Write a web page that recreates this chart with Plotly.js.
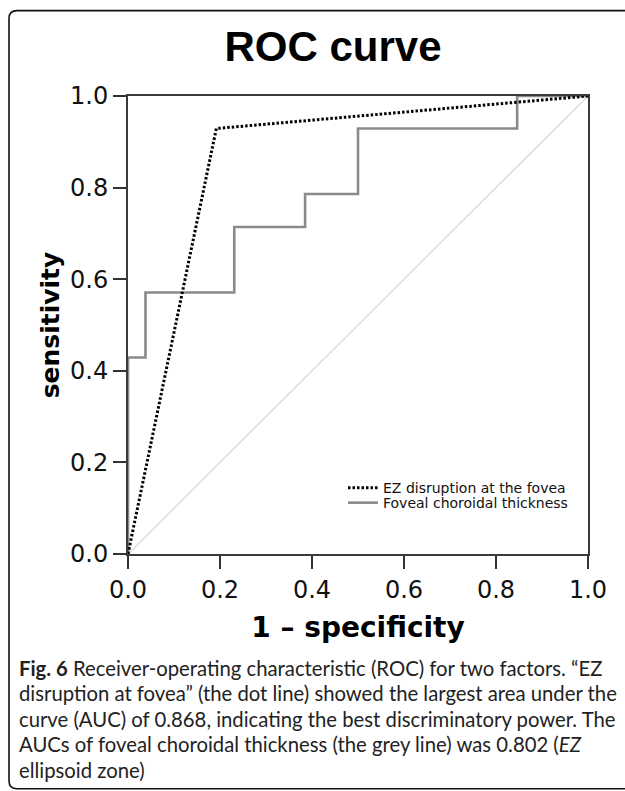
<!DOCTYPE html>
<html>
<head>
<meta charset="utf-8">
<script src="https://cdn.plot.ly/plotly-3.0.1.min.js"></script>
<style>
  html, body { margin: 0; padding: 0; background: #fff; }
  #chart { width: 625px; height: 791px; }
</style>
</head>
<body>
<div id="chart"></div>
<script>
// ---- data ----
const ezFpr = [0, 0.192, 1];
const ezTpr = [0, 0.929, 1];
const fctFpr = [0, 0, 0.038, 0.231, 0.385, 0.5, 0.846, 1];
const fctTpr = [0, 0.429, 0.571, 0.714, 0.786, 0.929, 1, 1];
const refX = [0, 1];
const refY = [0, 1];
const tickVals = [0, 0.2, 0.4, 0.6, 0.8, 1.0];
const tickText = ["0.0", "0.2", "0.4", "0.6", "0.8", "1.0"];
const seriesNames = ["EZ disruption at the fovea", "Foveal choroidal thickness"];
const captionLines = [
  "<b>Fig. 6</b> Receiver-operating characteristic (ROC) for two factors. \u201cEZ",
  "disruption at fovea\u201d (the dot line) showed the largest area under the",
  "curve (AUC) of 0.868, indicating the best discriminatory power. The",
  "AUCs of foveal choroidal thickness (the grey line) was 0.802 (<i>EZ</i>",
  "ellipsoid zone)"
];

// ---- layout geometry (pixels) ----
const W = 625, H = 791;
const L = 128, R = 588, T = 95.5, B = 554;
const xp = px => (px - L) / (R - L);
const yp = py => (B - py) / (B - T);

const traces = [
  { x: refX, y: refY, mode: 'lines', line: { color: '#d6d6d6', width: 1.2 },
    showlegend: false, hoverinfo: 'skip' },
  { x: fctFpr, y: fctTpr, mode: 'lines', name: seriesNames[1],
    line: { color: '#8a8a8a', width: 2.6, shape: 'hv' }, legend: 'legend2' },
  { x: ezFpr, y: ezTpr, mode: 'lines', name: seriesNames[0],
    line: { color: '#000000', width: 3, dash: '2.5px,2px' }, legend: 'legend' }
];

const axisCommon = {
  range: [0, 1], tickmode: 'array', tickvals: tickVals, ticktext: tickText,
  ticks: 'outside', ticklen: 13, tickwidth: 2, tickcolor: '#333',
  showline: true, linewidth: 2, linecolor: '#3a3a3a', mirror: true,
  showgrid: false, zeroline: false, fixedrange: true,
  tickfont: { family: 'DejaVu Sans', size: 24, color: '#111' }
};

const frame = [
  'M', xp(640), yp(10), 'L', xp(17), yp(10),
  'Q', xp(9), yp(10), xp(9), yp(18),
  'L', xp(9), yp(781),
  'Q', xp(9), yp(789), xp(17), yp(789),
  'L', xp(640), yp(789)
].join(' ');

const annotations = captionLines.map((t, i) => ({
  text: t, xref: 'paper', yref: 'paper', x: xp(17), y: yp(668 + i * 25.5),
  xanchor: 'left', yanchor: 'middle', align: 'left', showarrow: false,
  font: { family: 'Lato', size: 20.3, color: '#222' }
}));

const legendCommon = {
  xref: 'paper', yref: 'paper', xanchor: 'left', yanchor: 'middle',
  bgcolor: 'rgba(0,0,0,0)', borderwidth: 0, itemwidth: 30,
  font: { family: 'DejaVu Sans', size: 14, color: '#111' }
};

const layout = {
  width: W, height: H,
  margin: { l: L, r: W - R, t: T, b: H - B, pad: 0 },
  paper_bgcolor: '#fff', plot_bgcolor: '#fff',
  title: { text: '<b>ROC curve</b>', xref: 'container', yref: 'container',
           x: 333 / W, y: 1 - 46 / H, xanchor: 'center', yanchor: 'middle',
           font: { family: 'Liberation Sans, Arial', size: 42, color: '#000' } },
  xaxis: Object.assign({}, axisCommon, {
    title: { text: '<b>1 \u2013 specificity</b>', standoff: 15,
             font: { family: 'DejaVu Sans', size: 28, color: '#000' } }
  }),
  yaxis: Object.assign({}, axisCommon, {
    title: { text: '<b>sensitivity</b>', standoff: 3,
             font: { family: 'DejaVu Sans', size: 25, color: '#000' } }
  }),
  legend: Object.assign({}, legendCommon, { x: xp(343), y: yp(488) }),
  legend2: Object.assign({}, legendCommon, { x: xp(343), y: yp(503) }),
  shapes: [{ type: 'path', xref: 'paper', yref: 'paper', path: frame,
             line: { color: '#111', width: 1.6 }, layer: 'above' }],
  annotations: annotations
};

Plotly.newPlot('chart', traces, layout, { staticPlot: true, displayModeBar: false });
</script>
</body>
</html>
